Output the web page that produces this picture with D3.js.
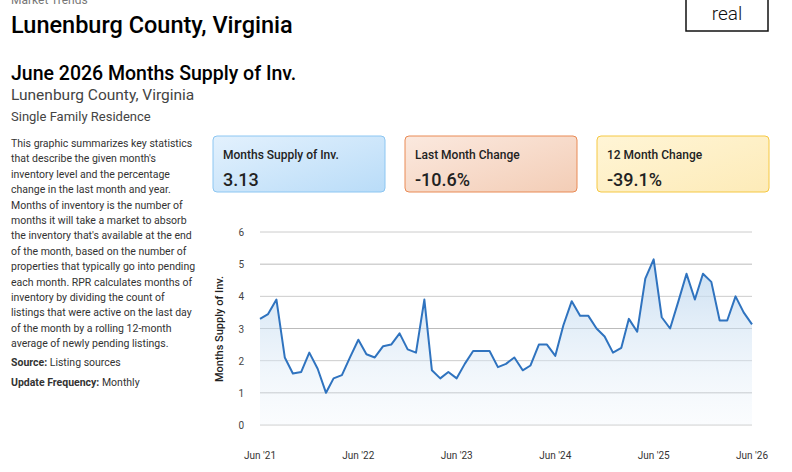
<!DOCTYPE html>
<html><head><meta charset="utf-8">
<script src="https://cdn.jsdelivr.net/npm/d3@7"></script>
<style>
body{margin:0;font-family:Roboto,sans-serif;background:#fff;color:#222;}
svg{display:block}
</style></head><body>
<svg id="chart" width="792" height="472"></svg>
<script>
const values = [3.3,3.45,3.9,2.1,1.6,1.65,2.25,1.75,1.0,1.45,1.55,2.1,2.65,2.2,2.1,2.45,2.5,2.85,2.35,2.25,3.9,1.7,1.45,1.65,1.45,1.9,2.3,2.3,2.3,1.8,1.9,2.1,
  1.7,1.85,2.5,2.5,2.15,3.1,3.85,3.4,3.4,3.0,2.75,2.25,2.4,3.3,2.9,4.55,5.15,3.35,3.0,3.85,4.7,3.9,4.7,4.45,3.25,3.25,4.0,3.5,3.13];
const dates = values.map((v, i) => new Date(2021, 5 + i, 1));
const yTicks = [0,1,2,3,4,5,6];
const xTickLabels = ["Jun '21","Jun '22","Jun '23","Jun '24","Jun '25","Jun '26"];
const cards = [
  {title:"Months Supply of Inv.", value:"3.13", c1:"#e3f1fd", c2:"#b9dcf8", stroke:"#8cc6f2"},
  {title:"Last Month Change", value:"-10.6%", c1:"#fbe9df", c2:"#f3cdb6", stroke:"#e98a55"},
  {title:"12 Month Change", value:"-39.1%", c1:"#fff5d6", c2:"#fdebb8", stroke:"#f5c842"}
];
const desc = ["This graphic summarizes key statistics","that describe the given month's","inventory level and the percentage","change in the last month and year.","Months of inventory is the number of","months it will take a market to absorb","the inventory that's available at the end","of the month, based on the number of","properties that typically go into pending","each month. RPR calculates months of","inventory by dividing the count of","listings that were active on the last day","of the month by a rolling 12-month","average of newly pending listings."];

const svg = d3.select("#chart");
const defs = svg.append("defs");

// header
svg.append("text").attr("x",11).attr("y",4).attr("font-size",12).attr("fill","#777").text("Market Trends");
svg.append("text").attr("x",11).attr("y",33).attr("font-size",23.5).attr("font-weight",500).text("Lunenburg County, Virginia");
svg.append("rect").attr("x",686).attr("y",-2).attr("width",82).attr("height",33).attr("fill","none").attr("stroke","#111").attr("stroke-width",1.5);
svg.append("text").attr("x",727).attr("y",20).attr("text-anchor","middle").attr("font-size",19).attr("font-weight",300).attr("fill","#111").text("real");
svg.append("text").attr("x",11).attr("y",80).attr("font-size",19.5).attr("font-weight",500).text("June 2026 Months Supply of Inv.");
svg.append("text").attr("x",11).attr("y",100).attr("font-size",15.5).attr("fill","#444").text("Lunenburg County, Virginia");
svg.append("text").attr("x",11).attr("y",121).attr("font-size",13).attr("fill","#444").text("Single Family Residence");

svg.append("g").selectAll("text").data(desc).join("text")
  .attr("x",11).attr("y",(d,i)=>147+i*15.4).attr("font-size",10.5).attr("fill","#333").text(d=>d);
const s = svg.append("text").attr("x",11).attr("y",366).attr("font-size",10.5).attr("fill","#333");
s.append("tspan").attr("font-weight",700).text("Source: ");
s.append("tspan").text("Listing sources");
const u = svg.append("text").attr("x",11).attr("y",386).attr("font-size",10.5).attr("fill","#333");
u.append("tspan").attr("font-weight",700).text("Update Frequency: ");
u.append("tspan").text("Monthly");

// cards
cards.forEach((c,i)=>{
  const g = defs.append("linearGradient").attr("id","cg"+i).attr("x1",0).attr("y1",0).attr("x2",1).attr("y2",1);
  g.append("stop").attr("offset",0).attr("stop-color",c.c1);
  g.append("stop").attr("offset",1).attr("stop-color",c.c2);
  const x = 213 + i*192;
  svg.append("rect").attr("x",x).attr("y",136).attr("width",172).attr("height",56).attr("rx",4)
    .attr("fill",`url(#cg${i})`).attr("stroke",c.stroke);
  svg.append("text").attr("x",x+10).attr("y",159).attr("font-size",12).attr("font-weight",500).attr("fill","#222").text(c.title);
  svg.append("text").attr("x",x+10).attr("y",186).attr("font-size",18).attr("font-weight",500).attr("fill","#222").text(c.value);
});

// chart
const x = d3.scaleTime().domain([dates[0], dates[dates.length-1]]).range([260,752]);
const y = d3.scaleLinear().domain([0,6]).range([425,232]);

svg.append("g").selectAll("line").data(yTicks).join("line")
  .attr("x1",260).attr("x2",752).attr("y1",d=>y(d)).attr("y2",d=>y(d))
  .attr("stroke",d=>d%2===0?"#ccc":"#bbb").attr("stroke-width",1);
svg.append("g").selectAll("text").data(yTicks).join("text")
  .attr("x",244).attr("y",d=>y(d)+4).attr("text-anchor","end").attr("font-size",10).attr("fill","#444").text(d=>d);
svg.append("text").attr("transform","translate(223,329) rotate(-90)").attr("text-anchor","middle")
  .attr("font-size",11).attr("font-weight",500).attr("fill","#222").text("Months Supply of Inv.");
svg.append("g").selectAll("text").data(xTickLabels).join("text")
  .attr("x",(d,i)=>x(new Date(2021+i,5,1))).attr("y",459).attr("text-anchor","middle")
  .attr("font-size",10).attr("fill","#333").text(d=>d);

const ag = defs.append("linearGradient").attr("id","ag").attr("x1",0).attr("y1",0).attr("x2",0).attr("y2",1);
ag.append("stop").attr("offset",0).attr("stop-color","#bcd6ee").attr("stop-opacity",0.8);
ag.append("stop").attr("offset",1).attr("stop-color","#e8f1fa").attr("stop-opacity",0.2);

svg.append("path").datum(values)
  .attr("d", d3.area().x((d,i)=>x(dates[i])).y0(y(0)).y1(d=>y(d)))
  .attr("fill","url(#ag)");
svg.append("path").datum(values)
  .attr("d", d3.line().x((d,i)=>x(dates[i])).y(d=>y(d)))
  .attr("fill","none").attr("stroke","#2f73bf").attr("stroke-width",2).attr("stroke-linejoin","round");
</script>
</body></html>
